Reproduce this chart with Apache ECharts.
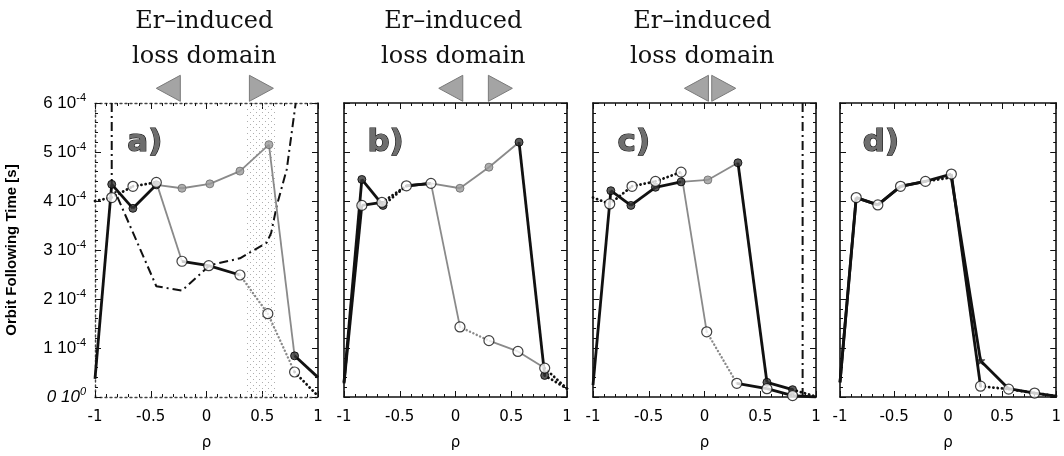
<!DOCTYPE html>
<html><head><meta charset="utf-8">
<script src="https://cdn.jsdelivr.net/npm/echarts@6/dist/echarts.min.js"></script>
<style>html,body{margin:0;padding:0;background:#fff}#c{width:1064px;height:456px}</style>
</head><body><div id="c"></div>
<script>
// ---- data (orbit following time in units of 1e-4 s, versus rho) ----
const panelNames = ['a)', 'b)', 'c)', 'd)'];
const domainTitle = 'Er\u2013induced\nloss domain';

// panel a
const aFilledX = [-1, -0.85, -0.66, -0.45, -0.22, 0.03, 0.30, 0.56, 0.79, 1.0];
const aFilledY = [0.37, 4.34, 3.85, 4.33, 4.26, 4.35, 4.61, 5.15, 0.84, 0.40];
const aOpenX   = [-1, -0.85, -0.66, -0.45, -0.22, 0.02, 0.30, 0.55, 0.79, 1.0];
const aOpenY   = [4.00, 4.07, 4.30, 4.38, 2.77, 2.68, 2.49, 1.70, 0.51, 0.02];
const aDashX   = [-0.85, -0.85, -0.45, -0.22, 0.03, 0.30, 0.54, 0.58, 0.63, 0.72, 0.80];
const aDashY   = [6.0, 4.35, 2.26, 2.17, 2.69, 2.83, 3.15, 3.35, 3.90, 4.65, 6.0];
const aShadeX  = [0.35, 0.63];

// panel b
const bFilledX = [-1, -0.84, -0.65, -0.44, -0.22, 0.04, 0.30, 0.57, 0.80, 1.0];
const bFilledY = [0.30, 4.44, 3.91, 4.31, 4.36, 4.26, 4.69, 5.20, 0.44, 0.17];
const bOpenX   = [-1, -0.84, -0.66, -0.44, -0.22, 0.04, 0.30, 0.56, 0.80, 1.0];
const bOpenY   = [0.28, 3.91, 3.97, 4.31, 4.36, 1.43, 1.15, 0.93, 0.59, 0.17];

// panel c
const cFilledX = [-1, -0.84, -0.66, -0.44, -0.21, 0.03, 0.30, 0.56, 0.79, 1.0];
const cFilledY = [0.24, 4.21, 3.91, 4.28, 4.39, 4.43, 4.78, 0.30, 0.15, 0.01];
const cOpenX   = [-1, -0.85, -0.65, -0.44, -0.21, 0.02, 0.29, 0.56, 0.79, 1.0];
const cOpenY   = [4.07, 3.94, 4.30, 4.40, 4.59, 1.33, 0.28, 0.17, 0.03, 0.0];
const cDashX   = [0.88, 0.88];
const cDashY   = [0, 6];

// panel d
const dFilledX = [-1, -0.85, -0.65, -0.44, -0.21, 0.03, 0.30, 0.56, 0.80, 1.0];
const dFilledY = [0.30, 4.07, 3.92, 4.30, 4.40, 4.48, 0.74, 0.17, 0.08, 0.02];
const dOpenX   = [-1, -0.85, -0.65, -0.44, -0.21, 0.03, 0.30, 0.56, 0.80, 1.0];
const dOpenY   = [0.30, 4.07, 3.92, 4.30, 4.40, 4.55, 0.22, 0.16, 0.08, 0.02];

// loss-domain arrow tips (rho) for panels a, b, c
const domainLeft  = [-0.45, -0.15, -0.18];
const domainRight = [0.60, 0.51, 0.28];

// ---- per-segment line styles and marker kinds ----
const aFilledSeg = ['k','k','k','g','g','g','g','g','k'];
const aFilledMk  = ['n','k','k','k','g','g','g','g','k','n'];
const aOpenSeg   = ['kd','kd','kd','g','k','k','gd','gd','kd'];
const aOpenMk    = ['n','w','w','w','w','w','w','w','w','n'];
const bFilledSeg = ['k','k','kd','k','g','g','g','k','kd'];
const bFilledMk  = ['n','k','k','n','n','g','g','k','k','n'];
const bOpenSeg   = ['k','k','kd','k','g','gd','g','g','kd'];
const bOpenMk    = ['n','w','w','w','w','w','w','w','w','n'];
const cFilledSeg = ['k','k','k','k','g','g','k','k','kd'];
const cFilledMk  = ['n','k','k','k','k','g','k','k','k','n'];
const cOpenSeg   = ['kd','kd','kd','kd','g','gd','k','k','k'];
const cOpenMk    = ['n','w','w','w','w','w','w','w','w','n'];
const dFilledSeg = ['k','k','k','k','kd','k','k','k','k'];
const dFilledMk  = ['n','n','n','n','n','n','s','n','n','n'];
const dOpenSeg   = ['k','k','k','k','k','k','kd','kd','kd'];
const dOpenMk    = ['n','w','w','w','w','w','w','w','w','n'];

const panels = [
  {curves: [[aFilledX, aFilledY, aFilledSeg, aFilledMk], [aOpenX, aOpenY, aOpenSeg, aOpenMk]], dash: [aDashX, aDashY], shade: aShadeX},
  {curves: [[bFilledX, bFilledY, bFilledSeg, bFilledMk], [bOpenX, bOpenY, bOpenSeg, bOpenMk]]},
  {curves: [[cFilledX, cFilledY, cFilledSeg, cFilledMk], [cOpenX, cOpenY, cOpenSeg, cOpenMk]], dash: [cDashX, cDashY]},
  {curves: [[dFilledX, dFilledY, dFilledSeg, dFilledMk], [dOpenX, dOpenY, dOpenSeg, dOpenMk]]}
];

const segStyle = {
  k:  {color: '#111', width: 2.8, type: 'solid'},
  kd: {color: '#111', width: 2.8, type: [0.1, 4.2], cap: 'round'},
  g:  {color: '#8a8a8a', width: 1.8, type: 'solid'},
  gd: {color: '#8a8a8a', width: 2.4, type: [0.1, 3.6], cap: 'round'}
};
const STAR = 'path://M0,-10L2.4,-3.2L9.5,-3.1L3.8,1.2L5.9,8.1L0,4L-5.9,8.1L-3.8,1.2L-9.5,-3.1L-2.4,-3.2Z';
const mkStyle = {
  w: {symbol: 'circle', symbolSize: 10, itemStyle: {color: '#fff', borderColor: '#111', borderWidth: 1.2}, z: 6},
  k: {symbol: 'circle', symbolSize: 8, itemStyle: {color: '#333', borderColor: '#000', borderWidth: 1}, z: 5},
  g: {symbol: 'circle', symbolSize: 8, itemStyle: {color: '#9a9a9a', borderColor: '#6a6a6a', borderWidth: 1}, z: 5},
  s: {symbol: STAR, symbolSize: 9, itemStyle: {color: '#222', borderColor: '#000', borderWidth: 0.5}, z: 5}
};

// stipple pattern for the shaded band
const pat = document.createElement('canvas');
pat.width = 6; pat.height = 6;
const pc = pat.getContext('2d');
pc.fillStyle = 'rgba(120,120,120,0.6)';
pc.fillRect(1, 1, 1, 1); pc.fillRect(4, 4, 1, 1);

// ---- layout ----
const gridLeft = [95, 344, 593, 840];
const grids = gridLeft.map(l => ({left: l, top: 103, width: 223, height: 297}));
const xAxes = [], yAxes = [], series = [];
const firstSeries = [];

panels.forEach((p, i) => {
  const dottedFrame = i === 0;
  const frameLine = {show: true, onZero: false, lineStyle: {color: '#111', width: 1.6, type: 'solid'}};
  const dotLine = {show: true, onZero: false, lineStyle: {color: '#444', width: 1.4, type: [2, 3]}};
  const xBase = {
    type: 'value', gridIndex: i, min: -1, max: 1, interval: 0.5,
    splitLine: {show: false},
    axisTick: {show: true, inside: true, length: 6, lineStyle: {color: '#111', width: 1}},
    minorTick: {show: true, splitNumber: 5, length: 3, lineStyle: {color: '#111', width: 1}},
    minorSplitLine: {show: false}
  };
  xAxes.push(Object.assign({}, xBase, {
    position: 'bottom',
    axisLine: dottedFrame ? dotLine : frameLine,
    axisLabel: {show: true, color: '#000', fontSize: 15, fontFamily: 'DejaVu Sans', margin: 13,
      formatter: v => String(v)},
    name: '\u03c1', nameLocation: 'middle', nameGap: 39,
    nameTextStyle: {color: '#000', fontSize: 15, fontFamily: 'DejaVu Sans'}
  }));
  xAxes.push(Object.assign({}, xBase, {
    position: 'top', axisLine: dottedFrame ? dotLine : frameLine, axisLabel: {show: false}
  }));
  const yBase = {
    type: 'value', gridIndex: i, min: 0, max: 6, interval: 1,
    splitLine: {show: false},
    axisTick: {show: true, inside: true, length: 6, lineStyle: {color: '#111', width: 1}},
    minorTick: {show: true, splitNumber: 5, length: 3, lineStyle: {color: '#111', width: 1}}
  };
  yAxes.push(Object.assign({}, yBase, {
    position: 'left',
    axisLine: dottedFrame ? dotLine : frameLine,
    axisLabel: i === 0 ? {
      show: true, margin: 9, color: '#000',
      formatter: v => v === 0 ? '{i|0 10}{si|0}' : '{n|' + v + ' 10}{s|-4}',
      rich: {
        n: {fontSize: 17, fontFamily: 'Liberation Sans', color: '#000', lineHeight: 22},
        s: {fontSize: 11, fontFamily: 'Liberation Sans', color: '#000', verticalAlign: 'top', lineHeight: 11},
        i: {fontSize: 17, fontFamily: 'Liberation Sans', fontStyle: 'italic', color: '#000', lineHeight: 22},
        si: {fontSize: 11, fontFamily: 'Liberation Sans', fontStyle: 'italic', color: '#000', verticalAlign: 'top', lineHeight: 11}
      }
    } : {show: false},
    name: i === 0 ? 'Orbit Following Time [s]' : '',
    nameLocation: 'middle', nameGap: 76, nameRotate: 90,
    nameTextStyle: {color: '#000', fontSize: 15, fontWeight: 'bold', fontFamily: 'Liberation Sans'}
  }));
  yAxes.push(Object.assign({}, yBase, {
    position: 'right', axisLine: frameLine, axisLabel: {show: false}
  }));

  firstSeries.push(series.length);
  series.push({
    type: 'line', xAxisIndex: 2 * i, yAxisIndex: 2 * i, data: [], silent: true,
    markArea: p.shade ? {
      silent: true,
      itemStyle: {color: {image: pat, repeat: 'repeat'}},
      data: [[{xAxis: p.shade[0], yAxis: 0}, {xAxis: p.shade[1], yAxis: 6}]]
    } : undefined
  });
  if (p.dash) {
    series.push({
      type: 'line', xAxisIndex: 2 * i, yAxisIndex: 2 * i, showSymbol: false, symbol: 'none',
      data: p.dash[0].map((x, k) => [x, p.dash[1][k]]), z: 3, silent: true,
      lineStyle: {color: '#111', width: 2, type: [9, 4, 2, 4]}
    });
  }
  p.curves.forEach(([xs, ys, seg, mk]) => {
    seg.forEach((s, k) => {
      series.push({
        type: 'line', xAxisIndex: 2 * i, yAxisIndex: 2 * i, symbol: 'none', silent: true, z: 3,
        data: [[xs[k], ys[k]], [xs[k + 1], ys[k + 1]]],
        lineStyle: Object.assign({}, segStyle[s])
      });
    });
  });
  p.curves.forEach(([xs, ys, seg, mk]) => {
    ['k', 'g', 's', 'w'].forEach(kind => {
      const pts = [];
      xs.forEach((x, k) => { if (mk[k] === kind) pts.push([x, ys[k]]); });
      if (!pts.length) return;
      const st = mkStyle[kind];
      series.push({
        type: 'scatter', xAxisIndex: 2 * i, yAxisIndex: 2 * i, silent: true,
        symbol: st.symbol, symbolSize: st.symbolSize, itemStyle: st.itemStyle, z: st.z,
        data: pts
      });
    });
  });
});

const chart = echarts.init(document.getElementById('c'), null, {renderer: 'canvas'});
chart.setOption({
  animation: false,
  backgroundColor: '#fff',
  grid: grids, xAxis: xAxes, yAxis: yAxes, series: series
});

// ---- annotations positioned through the axes ----
const graphics = [];
const px = (i, x, y) => chart.convertToPixel({seriesIndex: firstSeries[i]}, [x, y]);
panelNames.forEach((name, i) => {
  const labelRho = [-0.71, -0.79, -0.78, -0.79][i];
  const pos = px(i, labelRho, 5.5);
  graphics.push({
    type: 'text', x: pos[0], y: pos[1], z: 10, silent: true,
    style: {text: name, fontSize: 31, fontWeight: 'bold', fontFamily: 'DejaVu Sans',
      fill: '#6e6e6e', stroke: '#111', lineWidth: 1.2, textAlign: 'left', textVerticalAlign: 'top'}
  });
});
domainLeft.forEach((l, i) => {
  const r = domainRight[i];
  const c = px(i, -0.02, 7.3);
  graphics.push({
    type: 'text', x: c[0], y: c[1], silent: true,
    style: {text: domainTitle, fontSize: 24, fontFamily: 'DejaVu Serif', fill: '#111',
      textAlign: 'center', textVerticalAlign: 'middle', lineHeight: 35}
  });
  const tl = px(i, l, 6.3), tr = px(i, r, 6.3);
  const w = 24, h = 13;
  graphics.push({type: 'polygon', silent: true,
    shape: {points: [[tl[0], tl[1]], [tl[0] + w, tl[1] - h], [tl[0] + w, tl[1] + h]]},
    style: {fill: '#a4a4a4', stroke: '#7a7a7a', lineWidth: 1}});
  graphics.push({type: 'polygon', silent: true,
    shape: {points: [[tr[0], tr[1]], [tr[0] - w, tr[1] - h], [tr[0] - w, tr[1] + h]]},
    style: {fill: '#a4a4a4', stroke: '#7a7a7a', lineWidth: 1}});
});
chart.setOption({graphic: graphics});
</script>
</body></html>
